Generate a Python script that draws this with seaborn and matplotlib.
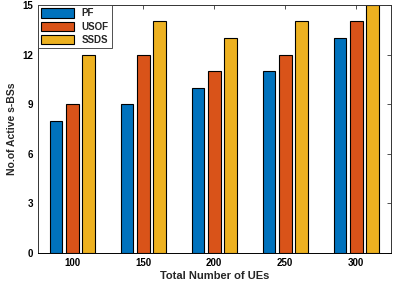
import matplotlib
matplotlib.use("Agg")
import matplotlib.pyplot as plt
import seaborn as sns
import pandas as pd

categories = ["100", "150", "200", "250", "300"]
pf = [8, 9, 10, 11, 13]
usof = [9, 12, 11, 12, 14]
ssds = [12, 14, 13, 14, 15]
series_names = ["PF", "USOF", "SSDS"]
yticks = [0, 3, 6, 9, 12, 15]

rows = []
for name, vals in zip(series_names, [pf, usof, ssds]):
    for c, v in zip(categories, vals):
        rows.append({"UEs": c, "val": v, "Scheme": name})
df = pd.DataFrame(rows)

sns.set_style("white")
plt.rcParams["font.family"] = ["Liberation Sans", "DejaVu Sans"]

fig = plt.figure(figsize=(3.96, 2.87), dpi=100)
ax = fig.add_axes([0.096, 0.118, 0.891, 0.865])
palette = ["#0072BD", "#D95319", "#EDB120"]
sns.barplot(data=df, x="UEs", y="val", hue="Scheme", palette=palette,
            width=0.68, gap=0.2, edgecolor="black", linewidth=0.8,
            saturation=1, ax=ax, errorbar=None)
ax.set_xlim(-0.48, 4.49)
ax.set_ylim(0, 15)
ax.set_yticks(yticks)
ax.set_yticklabels([str(t) for t in yticks])
ax.tick_params(direction="in", length=3, width=0.6, labelsize=7, top=True, right=True,
               colors="#333333", labelcolor="black")
for lab in ax.get_xticklabels() + ax.get_yticklabels():
    lab.set_fontweight("bold")
ax.set_xlabel("Total Number of UEs", fontsize=8, fontweight="bold", labelpad=2)
ax.set_ylabel("No.of Active s-BSs", fontsize=7.5, fontweight="bold", labelpad=4)
for s in ax.spines.values():
    s.set_color("#333333")
    s.set_linewidth(0.7)
ax.spines["bottom"].set_color("black")
leg = ax.legend(loc="upper left", fontsize=7, frameon=True, fancybox=False,
                edgecolor="#333333", framealpha=1, borderaxespad=0.0,
                handlelength=3.4, handleheight=1.1, labelspacing=0.35,
                borderpad=0.35, handletextpad=0.7)
leg.get_frame().set_linewidth(0.6)
for t in leg.get_texts():
    t.set_fontweight("bold")
fig.savefig("out.png", dpi=100)
